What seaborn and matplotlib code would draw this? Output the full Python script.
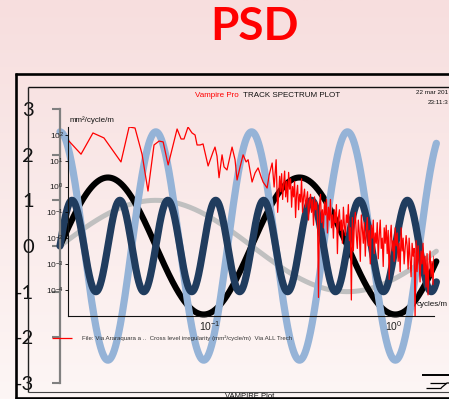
import numpy as np
import matplotlib
matplotlib.use("Agg")
import matplotlib.pyplot as plt
from matplotlib.ticker import FixedLocator, NullLocator, LogFormatterMathtext
import seaborn as sns

# ---------------- waves drawn on the slide ----------------
wave_names = ["sin t", "1.5 sin 2t", "2.5 cos 4t", "sin 8t"]
wave_amplitudes = [1.0, 1.5, 2.5, 1.0]
wave_frequencies = [1, 2, 4, 8]
wave_functions = ["sin", "sin", "cos", "sin"]
wave_colors = ["#c0c0c0", "#000000", "#95b3d7", "#203c5e"]
wave_widths = [3.6, 4.4, 5.2, 5.2]
t_end = 6.17
y_ticks = [-3, -2, -1, 0, 1, 2, 3]
y_tick_labels = ["-3", "-2", "-1", "0", "1", "2", "3"]

# ---------------- track spectrum (cross level irregularity) ----------------
spec_freq = [0.0169, 0.0199, 0.0231, 0.0265, 0.0328, 0.0363, 0.0391, 0.0427, 0.0460, 0.0496,
             0.0528, 0.0556, 0.0592, 0.0662, 0.0696, 0.0722, 0.0759, 0.0798, 0.0829, 0.0850,
             0.0883, 0.0916, 0.0976, 0.1038, 0.1064, 0.1091, 0.1119, 0.1162, 0.1191, 0.1236,
             0.1317, 0.1367, 0.1402, 0.1456, 0.1512, 0.1570, 0.1610, 0.1692, 0.1757, 0.1824,
             0.1894, 0.1942, 0.2042, 0.2095, 0.2175, 0.2229, 0.2286]
spec_psd = [64, 18, 120, 77, 9.0, 204, 187, 18, 0.67, 41,
            58, 54, 6.9, 171, 70, 70, 204, 120, 100, 41,
            41, 45, 6.3, 22, 34, 15, 2.2, 17, 5.8, 4.4,
            34, 11, 1.8, 5.8, 17, 9.0, 11, 1.5, 3.4, 5.3,
            2.4, 1.5, 0.88, 2.8, 8.2, 0.96, 11]
# high-frequency part, PSD given as decade exponents
dense_freq_range = (0.233, 1.69)
dense_psd_exp = [
    -1.0, -0.3, 0.4, -0.2, 0.5, -0.5, 0.1, 0.6, -0.4, 0.2,
    -0.6, 0.55, -0.1, 0.3, -0.8, 0.0, -0.4, 0.2, -1.2, -0.3,
    0.05, -0.9, -0.3, -0.6, 0.3, -1.0, -0.4, -0.1, -0.8, -0.5,
    -0.2, -1.3, -0.6, -0.3, -1.0, -0.5, -1.5, -0.4, -0.9, -0.6,
    -1.2, -4.3, -0.7, -0.3, -1.4, -0.9, -1.6, -0.6, -1.1, -0.5,
    -1.8, -0.8, -1.3, -0.5, -1.6, -1.1, -2.0, -0.9, -1.4, -0.7,
    -2.6, -1.2, -0.9, -1.7, -1.3, -2.2, -0.8, -1.5, -1.9, -1.1,
    -1.4, -0.7, -2.1, -1.6, -4.4, -1.2, -2.5, -1.5, -1.0, -1.9,
    -2.4, -1.3, -1.8, -2.9, -1.1, -1.6, -2.2, -1.4, -2.7, -1.7,
    -1.2, -2.3, -1.7, -3.0, -1.5, -2.0, -1.3, -2.6, -1.8, -2.2,
    -1.4, -2.8, -1.9, -1.3, -2.4, -2.0, -3.1, -1.6, -2.2, -1.5,
    -2.6, -1.7, -3.6, -2.0, -1.5, -2.5, -2.1, -2.9, -1.6, -2.3,
    -1.8, -2.9, -2.2, -3.3, -1.6, -2.5, -2.0, -3.0, -2.4, -1.9,
    -2.3, -3.2, -2.0, -2.8, -3.5, -2.2, -2.7, -2.4, -5.05, -2.1,
    -3.3, -2.3, -2.9, -3.7, -2.5, -3.0, -2.2, -3.4, -2.7, -3.9,
    -2.6, -4.2, -3.0, -2.5, -3.5, -2.9, -3.8, -2.7, -3.2, -2.5,
]
psd_ticks = [1e-4, 1e-3, 1e-2, 1e-1, 1e0, 1e1, 1e2]
freq_ticks = [0.1, 1.0]

W, H = 449, 399
fig = plt.figure(figsize=(W / 100, H / 100), dpi=100)


def rect(left, top, right, bottom):
    return [left / W, 1 - bottom / H, (right - left) / W, (bottom - top) / H]


# slide background: soft pink vertical gradient
bg = fig.add_axes([0, 0, 1, 1], zorder=0)
top_c = np.array([247, 222, 222]) / 255
bot_c = np.array([253, 246, 245]) / 255
g = np.linspace(0, 1, 256)[:, None, None]
bg.imshow(top_c * (1 - g) + bot_c * g, aspect="auto", extent=[0, 1, 0, 1])
bg.axis("off")

# ---------------- sine waves ----------------
ax = fig.add_axes(rect(60, 109, 449, 383), zorder=1)
ax.patch.set_alpha(0)
t = np.linspace(0, t_end, 900)
for name, amp, k, fn, col, lw in zip(wave_names, wave_amplitudes, wave_frequencies,
                                     wave_functions, wave_colors, wave_widths):
    y = amp * (np.sin(k * t) if fn == "sin" else np.cos(k * t))
    sns.lineplot(x=t, y=y, ax=ax, color=col, linewidth=lw, estimator=None, sort=False)
for ln in ax.get_lines():
    ln.set_solid_capstyle("round")
    ln.set_clip_on(False)
ax.set_xlim(0, 389 / 61)
ax.set_ylim(-3, 3)
for s in ["top", "right", "bottom"]:
    ax.spines[s].set_visible(False)
ax.spines["left"].set_color("#808080")
ax.spines["left"].set_linewidth(1.6)
ax.set_xticks([])
ax.set_yticks(y_ticks)
ax.set_yticklabels(y_tick_labels, family="Lato", fontsize=14.5, color="#111111")
ax.tick_params(axis="y", length=5.8, width=1.5, color="#808080", pad=13)
ax.set_xlabel("")
ax.set_ylabel("")

# ---------------- track spectrum plot ----------------
lax = fig.add_axes(rect(68, 127, 434, 316), zorder=2)
lax.patch.set_alpha(0)
lax.set_xscale("log")
lax.set_yscale("log")
all_f = list(spec_freq) + list(np.geomspace(*dense_freq_range, len(dense_psd_exp)))
all_p = list(spec_psd) + [10.0 ** e for e in dense_psd_exp]
sns.lineplot(x=all_f, y=all_p, ax=lax, color="#ff0000", linewidth=0.9,
             estimator=None, sort=False)
lax.set_xlim(10 ** -1.772, 10 ** 0.217)
lax.set_ylim(10 ** -5.02, 10 ** 2.31)
for s in ["top", "right"]:
    lax.spines[s].set_visible(False)
for s in ["left", "bottom"]:
    lax.spines[s].set_color("#111111")
    lax.spines[s].set_linewidth(0.8)
lax.yaxis.set_major_locator(FixedLocator(psd_ticks))
lax.xaxis.set_major_locator(FixedLocator(freq_ticks))
lax.yaxis.set_minor_locator(NullLocator())
lax.xaxis.set_minor_locator(NullLocator())
lax.yaxis.set_major_formatter(LogFormatterMathtext())
lax.xaxis.set_major_formatter(LogFormatterMathtext())
lax.tick_params(axis="y", labelsize=6, length=2, width=0.6, pad=1, labelcolor="#222222")
lax.tick_params(axis="x", labelsize=7.5, length=0, pad=2, labelcolor="#222222")
for lab in lax.get_yticklabels() + lax.get_xticklabels():
    lab.set_family("Liberation Sans")
lax.set_xlabel("")
lax.set_ylabel("")

# ---------------- screenshot frame, captions and legend ----------------
ov = fig.add_axes([0, 0, 1, 1], zorder=3)
ov.set_xlim(0, W)
ov.set_ylim(H, 0)
ov.axis("off")
ov.patch.set_alpha(0)

k = dict(solid_capstyle="butt", clip_on=False)
ov.plot([15, 449], [74, 74], color="black", lw=1.9, **k)
ov.plot([16, 16], [73, 399], color="black", lw=1.9, **k)
ov.plot([15, 449], [398, 398], color="black", lw=1.9, **k)
ov.plot([28, 449], [87, 87], color="#111111", lw=1.0, **k)
ov.plot([28, 28], [87, 392], color="#222222", lw=1.0, **k)
ov.plot([28, 449], [392, 392], color="#444444", lw=0.8, **k)

# corner logo
ov.plot([422, 449], [375, 375], color="black", lw=1.4, **k)
ov.plot([430, 446], [383, 383], color="black", lw=0.9, **k)
ov.plot([426, 441], [388, 388], color="black", lw=0.9, **k)
ov.plot([441, 447, 449], [388, 383, 383], color="black", lw=0.9, **k)

small = "Liberation Sans"
ov.text(254, 27, "PSD", color="#ff0000", fontsize=33, fontweight="bold",
        family="Lato", ha="center", va="center")
ov.text(195, 95.5, "Vampire Pro", color="#ff0000", fontsize=5.8, family=small,
        ha="left", va="center")
ov.text(243, 95.5, "TRACK SPECTRUM PLOT", color="#111111", fontsize=5.8, family=small,
        ha="left", va="center")
ov.text(448, 93, "22 mar 201", color="#111111", fontsize=4.6, family=small,
        ha="right", va="center")
ov.text(448, 102.5, "23:11:3", color="#111111", fontsize=4.6, family=small,
        ha="right", va="center")
ov.text(70, 120, "mm\u00b2/cycle/m", color="#111111", fontsize=5.8, family=small,
        ha="left", va="center")
ov.text(448, 305, "cycles/m", color="#111111", fontsize=5.8, family=small,
        ha="right", va="center")
ov.plot([52, 72], [338, 338], color="#ff0000", lw=0.9, **k)
ov.text(82, 338, "File: Via Araraquara a ..  Cross level irregularity (mm\u00b2/cycle/m)  Via ALL Trech",
        color="#333333", fontsize=4.4, family=small, ha="left", va="center")
ov.text(250, 393.5, "VAMPIRE Plot", color="#111111", fontsize=5.5, family=small,
        ha="center", va="top")

fig.savefig("out.png", dpi=100)
